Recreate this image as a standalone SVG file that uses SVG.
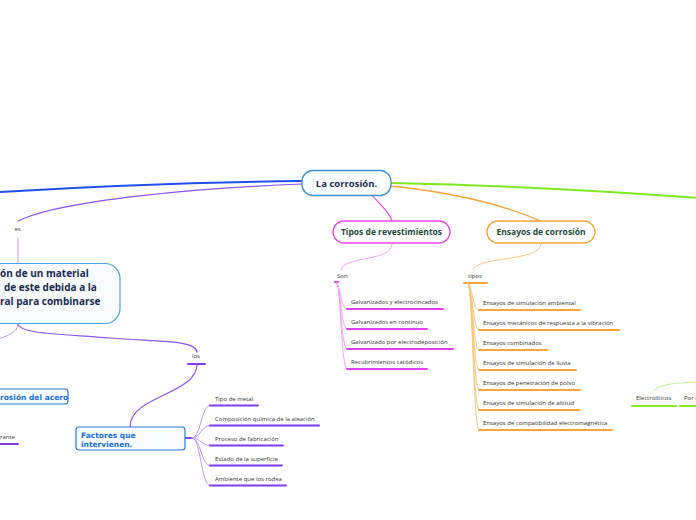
<svg xmlns="http://www.w3.org/2000/svg" width="696" height="520" viewBox="0 0 696 520">
<style>
.c{fill:none;stroke-linecap:round}
.pu{stroke:#8a55f0;stroke-width:1.2}
.puf{stroke:#b99bf7;stroke-width:1}
.pul{stroke:#7c3cf0;stroke-width:2}
.mg{stroke:#e845ee;stroke-width:1.2}
.mgf{stroke:#f3a2f6;stroke-width:1}
.mgl{stroke:#e23ff0;stroke-width:2}
.or{stroke:#f7a43a;stroke-width:1.3}
.orf{stroke:#fbc880;stroke-width:1}
.orl{stroke:#f7a43a;stroke-width:2}
.gr{stroke:#7ee822;stroke-width:2}
.grf{stroke:#c4f39a;stroke-width:1}
.grl{stroke:#86ea22;stroke-width:2}
.sm{font-family:"Open Sans","Noto Sans",sans-serif;font-size:6px;fill:#333}
.hd{font-family:"Open Sans","Noto Sans",sans-serif;font-weight:bold;fill:#1d4a3a;font-size:8.5px;text-anchor:middle}
.bl{font-family:"DejaVu Sans",Verdana,sans-serif;font-weight:bold;fill:#1a6fd6;font-size:7.5px}
</style>
<rect width="696" height="520" fill="#ffffff"/>
<g id="connectors">
<path class="c" d="M302,181 Q150,183 0,192" stroke="#1f4ff0" stroke-width="2"/>
<path class="c pu" d="M302,184 C200,188 60,200 18,221"/>
<path class="c puf" d="M18,238 L18,263"/>
<path class="c puf" d="M18,324 C18,332 8,336 -5,340"/>
<path class="c pu" d="M18,324 C20,334 60,334 110,338 C160,342 196,340 197,352"/>
<path class="c pul" d="M188,364 L205,364"/>
<path class="c pu" d="M197,364 C197,395 130,395 130,427"/>
<path class="c pul" d="M185,438 L192,438" stroke-width="3"/>
<path class="c puf" d="M192,438 C201,438 201,405.5 210,405.5"/>
<path class="c puf" d="M192,438 C201,438 201,425.5 210,425.5"/>
<path class="c puf" d="M192,438 C201,438 201,445.5 210,445.5"/>
<path class="c puf" d="M192,438 C201,438 201,465.5 210,465.5"/>
<path class="c puf" d="M192,438 C201,438 201,485.5 210,485.5"/>
<path class="c pul" d="M210,405.5 L258,405.5"/>
<path class="c pul" d="M210,425.5 L319,425.5"/>
<path class="c pul" d="M210,445.5 L283,445.5"/>
<path class="c pul" d="M210,465.5 L282,465.5"/>
<path class="c pul" d="M210,485.5 L286,485.5"/>
<path class="c mg" d="M372,195 C380,205 390,212 392,221"/>
<path class="c mgf" d="M392,244 C392,262 342,256 341,270"/>
<path class="c mgl" d="M335,282 L338,282"/>
<path class="c mgf" d="M337,283 C341,290 341,309 347,309"/>
<path class="c mgf" d="M337,283 C341,290 341,329 347,329"/>
<path class="c mgf" d="M337,283 C341,290 341,349 347,349"/>
<path class="c mgf" d="M337,283 C341,290 341,369 347,369"/>
<path class="c mgl" d="M347,309 L443,309"/>
<path class="c mgl" d="M347,329 L427,329"/>
<path class="c mgl" d="M347,349 L453,349"/>
<path class="c mgl" d="M347,369 L427,369"/>
<path class="c or" d="M390,186 Q480,195 541,221"/>
<path class="c orf" d="M541,244 C541,262 475,256 473,270"/>
<path class="c orl" d="M464,283 L487,283"/>
<path class="c orf" d="M468,283 C473,290 473,310 479,310"/>
<path class="c orf" d="M468,283 C473,290 473,330 479,330"/>
<path class="c orf" d="M468,283 C473,290 473,350 479,350"/>
<path class="c orf" d="M468,283 C473,290 473,370 479,370"/>
<path class="c orf" d="M468,283 C473,290 473,390 479,390"/>
<path class="c orf" d="M468,283 C473,290 473,410 479,410"/>
<path class="c orf" d="M468,283 C473,290 473,430 479,430"/>
<path class="c orl" d="M479,310 L580,310"/>
<path class="c orl" d="M479,330 L619,330"/>
<path class="c orl" d="M479,350 L547,350"/>
<path class="c orl" d="M479,370 L576,370"/>
<path class="c orl" d="M479,390 L580,390"/>
<path class="c orl" d="M479,410 L579,410"/>
<path class="c orl" d="M479,430 L612,430"/>
<path class="c gr" d="M391,183 Q540,186 698,198"/>
<path class="c grf" d="M653,391 C660,383 680,383 698,382"/>
<path class="c grl" d="M632,406 L676,406"/>
<path class="c grl" d="M680,406 L698,406"/>
<path class="c pul" d="M-2,444 L18,444"/>
</g>
<g id="n-central">
<rect x="302" y="170.5" width="89" height="25" rx="11" fill="#fafdff" stroke="#3d93d6" stroke-width="1.3"/>
<text x="346.5" y="186.5" font-family="'Open Sans','Noto Sans',sans-serif" font-weight="bold" font-size="9.5" fill="#1b2a4e" text-anchor="middle">La corrosión.</text>
</g>
<g id="n-es"><text class="sm" x="14.5" y="231">es</text></g>
<g id="n-main">
<rect x="-200" y="263.5" width="320" height="60" rx="15" fill="#f7fbfe" stroke="#4aa0e2" stroke-width="1.2"/>
<text font-family="'Open Sans','Noto Sans',sans-serif" font-weight="bold" font-size="10" fill="#1b2a4e">
<tspan x="0" y="277">ón de un material</tspan>
<tspan x="4" y="291">de este debida a la</tspan>
<tspan x="0" y="305">ral para combinarse</tspan>
</text>
</g>
<g id="n-los"><text class="sm" x="192" y="358">los</text></g>
<g id="n-acero">
<rect x="-100" y="389" width="168" height="15" rx="3" fill="#f7fbff" stroke="#2a7ad8" stroke-width="1.2"/>
<text class="bl" x="0" y="399.5">rosión del acero</text>
</g>
<g id="n-rante"><text class="sm" x="0" y="439">rante</text></g>
<g id="n-factores">
<rect x="76" y="427" width="109" height="23" rx="3" fill="#f7fbff" stroke="#2a7ad8" stroke-width="1.2"/>
<text class="bl"><tspan x="81" y="437.5">Factores que</tspan><tspan x="81" y="447">intervienen.</tspan></text>
</g>
<g id="n-f1"><text class="sm" x="215" y="401">Tipo de metal</text></g>
<g id="n-f2"><text class="sm" x="215" y="421">Composición química de la aleación</text></g>
<g id="n-f3"><text class="sm" x="215" y="441">Proceso de fabricación</text></g>
<g id="n-f4"><text class="sm" x="215" y="461">Estado de la superficie</text></g>
<g id="n-f5"><text class="sm" x="215" y="481">Ambiente que los rodea</text></g>
<g id="n-revest">
<rect x="333" y="221" width="117" height="22" rx="11" fill="#ffffff" stroke="#e845ee" stroke-width="1.3"/>
<text class="hd" x="391.5" y="235">Tipos de revestimientos</text>
</g>
<g id="n-son"><text class="sm" x="337" y="278">Son</text></g>
<g id="n-r1"><text class="sm" x="351" y="304">Galvanizados y electrocincados</text></g>
<g id="n-r2"><text class="sm" x="351" y="324">Galvanizados en continuo</text></g>
<g id="n-r3"><text class="sm" x="351" y="344">Galvanizado por electrodeposición</text></g>
<g id="n-r4"><text class="sm" x="351" y="364">Recubrimientos catódicos</text></g>
<g id="n-ensayos">
<rect x="487" y="221" width="108" height="22" rx="11" fill="#ffffff" stroke="#f7a43a" stroke-width="1.3"/>
<text class="hd" x="541" y="235">Ensayos de corrosión</text>
</g>
<g id="n-tipos"><text class="sm" x="468" y="278">tipos</text></g>
<g id="n-e1"><text class="sm" x="483" y="305">Ensayos de simulación ambiental</text></g>
<g id="n-e2"><text class="sm" x="483" y="325">Ensayos mecánicos de respuesta a la vibración</text></g>
<g id="n-e3"><text class="sm" x="483" y="345">Ensayos combinados</text></g>
<g id="n-e4"><text class="sm" x="483" y="365">Ensayos de simulación de lluvia</text></g>
<g id="n-e5"><text class="sm" x="483" y="385">Ensayos de penetración de polvo</text></g>
<g id="n-e6"><text class="sm" x="483" y="405">Ensayos de simulación de altitud</text></g>
<g id="n-e7"><text class="sm" x="483" y="425">Ensayos de compatibilidad electromagnética</text></g>
<g id="n-electro"><text class="sm" x="636" y="400">Electrolíticos</text></g>
<g id="n-por"><text class="sm" x="684" y="400">Por i</text></g>
</svg>
